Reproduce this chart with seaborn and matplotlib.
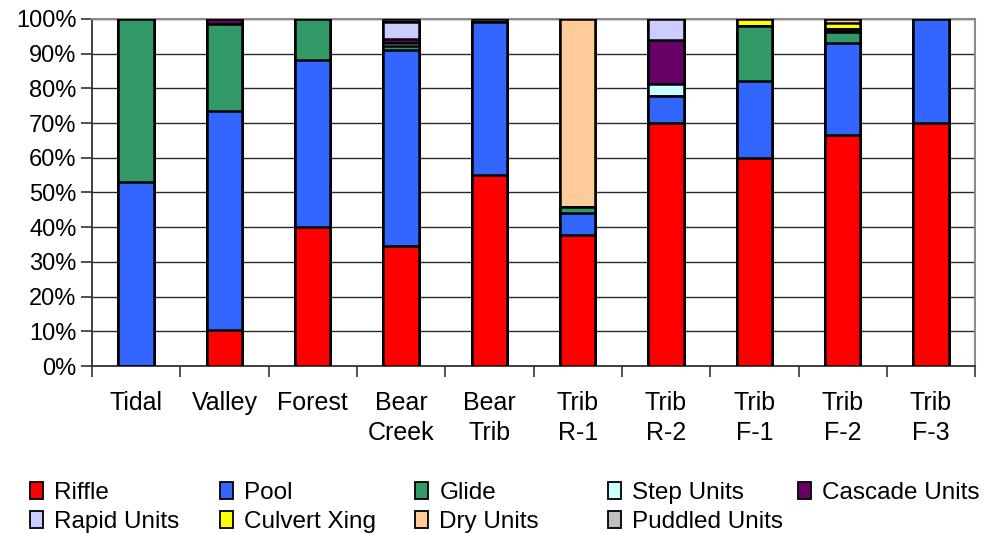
import matplotlib
matplotlib.use("Agg")
import numpy as np
import pandas as pd
import matplotlib.pyplot as plt
from matplotlib.patches import Patch
from matplotlib.ticker import FixedLocator, PercentFormatter
import seaborn as sns

# Habitat unit composition (percent of surveyed length) per reach
sites = ["Tidal", "Valley", "Forest", "Bear\nCreek", "Bear\nTrib",
         "Trib\nR-1", "Trib\nR-2", "Trib\nF-1", "Trib\nF-2", "Trib\nF-3"]

riffle  = [0.0, 10.4, 40.0, 34.5, 55.0, 37.8, 70.0, 60.0, 66.7, 70.0]
pool    = [53.0, 63.1, 48.3, 56.6, 44.0, 6.2, 7.8, 22.0, 26.3, 30.0]
glide   = [47.0, 25.0, 11.7, 1.0, 0.0, 1.9, 0.0, 16.0, 3.3, 0.0]
step    = [0.0, 0.0, 0.0, 1.0, 0.0, 0.0, 3.5, 0.0, 0.0, 0.0]
cascade = [0.0, 1.5, 0.0, 1.0, 0.0, 0.0, 12.7, 0.0, 0.7, 0.0]
rapid   = [0.0, 0.0, 0.0, 5.0, 0.0, 0.0, 6.0, 0.0, 0.0, 0.0]
culvert = [0.0, 0.0, 0.0, 0.0, 0.0, 0.0, 0.0, 2.0, 1.7, 0.0]
dry     = [0.0, 0.0, 0.0, 0.0, 0.0, 54.1, 0.0, 0.0, 1.3, 0.0]
puddled = [0.0, 0.0, 0.0, 0.9, 1.0, 0.0, 0.0, 0.0, 0.0, 0.0]

unit_names = ["Riffle", "Pool", "Glide", "Step Units", "Cascade Units",
              "Rapid Units", "Culvert Xing", "Dry Units", "Puddled Units"]
unit_values = [riffle, pool, glide, step, cascade, rapid, culvert, dry, puddled]
unit_colors = ["#FF0000", "#3366FF", "#339966", "#CCFFFF", "#660066",
               "#CCCCFF", "#FFFF00", "#FFCC99", "#C0C0C0"]

sns.set_theme(style="white")
plt.rcParams["font.family"] = ["Liberation Sans", "DejaVu Sans"]
plt.rcParams["text.color"] = "black"
plt.rcParams["xtick.color"] = "black"
plt.rcParams["ytick.color"] = "black"

df = pd.DataFrame(dict(zip(unit_names, unit_values)), index=sites)
cum = df.cumsum(axis=1)

fig = plt.figure(figsize=(9.87, 5.33), dpi=100)
ax = fig.add_axes([0.0932, 0.3133, 0.8948, 0.6511])

# Stack by overlaying cumulative totals, tallest first
for name, color in reversed(list(zip(unit_names, unit_colors))):
    sns.barplot(x=sites, y=cum[name].values, color=color, width=0.4,
                edgecolor="black", linewidth=1.8, errorbar=None,
                saturation=1, ax=ax, zorder=3)

ax.set_ylim(0, 100)
ax.set_xlim(-0.5, len(sites) - 0.5)
ax.yaxis.set_major_locator(FixedLocator(np.arange(0, 101, 10)))
ax.yaxis.set_major_formatter(PercentFormatter(decimals=0))
ax.grid(axis="y", color="#2a2a2a", linewidth=1.0, zorder=0)
ax.set_axisbelow(True)

# Category labels at bar centres, tick marks at category boundaries
ax.xaxis.set_major_locator(FixedLocator(np.arange(-0.5, len(sites), 1.0)))
ax.xaxis.set_minor_locator(FixedLocator(np.arange(len(sites))))
ax.set_xticklabels([], minor=False)
ax.set_xticklabels(sites, minor=True, fontsize=18, linespacing=1.3)
ax.tick_params(axis="x", which="major", direction="out", length=8,
               width=1.2, color="#333333", bottom=True)
ax.tick_params(axis="x", which="minor", length=0, pad=18, bottom=True)
ax.tick_params(axis="y", direction="out", length=8, width=1.2,
               color="#333333", left=True, pad=3, labelsize=17)
ax.set_xlabel("")
ax.set_ylabel("")

for side in ("left", "bottom"):
    ax.spines[side].set_color("#333333")
    ax.spines[side].set_linewidth(1.3)
for side in ("top", "right"):
    ax.spines[side].set_color("#8c8c8c")
    ax.spines[side].set_linewidth(1.5)

# Legend laid out as five columns across the bottom
handles = [Patch(facecolor=c, edgecolor="black", linewidth=1.3) for c in unit_colors]
columns = [[0, 5], [1, 6], [2, 7], [3, 8], [4]]
col_x = [30, 220, 415, 608, 798]
for idxs, x in zip(columns, col_x):
    fig.legend([handles[i] for i in idxs], [unit_names[i] for i in idxs],
               loc="upper left", bbox_to_anchor=(x / 987, 1 - 482 / 533),
               frameon=False, fontsize=17.5, borderpad=0, borderaxespad=0,
               handlelength=0.55, handleheight=0.7, handletextpad=0.45,
               labelspacing=0.28)

fig.savefig("out.png", dpi=100)
